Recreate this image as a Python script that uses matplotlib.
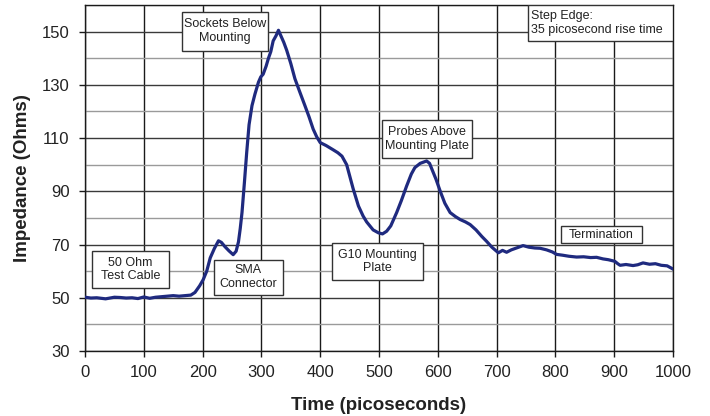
import matplotlib.pyplot as plt
from matplotlib.patches import Rectangle
from matplotlib.ticker import MultipleLocator

plt.rcParams["font.family"] = ["Liberation Sans", "DejaVu Sans"]

# TDR trace: time (ps) vs impedance (ohms)
time_ps = [0, 10, 20, 35, 50, 60, 70, 80, 90, 100, 110, 120, 130, 140, 150,
           160, 170, 180, 187, 195, 201, 207, 213, 220, 227, 232, 238, 245,
           252, 257, 261, 264, 267, 271, 275, 279, 284, 289, 295, 299, 303,
           308, 312, 316, 320, 325, 329, 333, 338, 343, 350, 357, 365, 374,
           381, 388, 394, 400, 410, 422, 430, 437, 445, 456, 465, 473, 479,
           490, 499, 506, 513, 520, 530, 538, 547, 555, 561, 570, 581, 586,
           590, 597, 604, 612, 621, 630, 638, 647, 655, 665, 675, 683, 692,
           703, 710, 717, 725, 735, 745, 755, 765, 774, 785, 795, 802, 812,
           823, 836, 848, 860, 870, 881, 890, 901, 906, 910, 920, 932, 940,
           949, 960, 970, 980, 990, 1000]
impedance = [50.2, 49.9, 50.0, 49.6, 50.2, 50.1, 49.9, 50.0, 49.7, 50.3,
             49.8, 50.2, 50.4, 50.6, 50.8, 50.6, 50.8, 51.0, 52.0, 54.5,
             56.8, 60.0, 65.0, 68.5, 71.4, 70.8, 69.2, 67.6, 66.2, 67.5,
             71.0, 76.0, 82.0, 93.0, 104.6, 115.0, 122.2, 126.5, 131.0,
             133.0, 134.0, 137.0, 140.0, 142.5, 146.5, 148.5, 150.5, 148.5,
             146.0, 143.0, 138.0, 132.3, 127.5, 122.2, 118.0, 113.4, 110.5,
             108.3, 107.2, 105.6, 104.5, 103.2, 100.0, 91.0, 84.5, 80.7,
             78.5, 75.5, 74.4, 74.0, 75.0, 77.0, 82.0, 86.5, 92.0, 96.5,
             98.9, 100.5, 101.4, 100.5, 98.3, 94.5, 90.1, 85.5, 82.0, 80.5,
             79.4, 78.5, 77.5, 75.5, 73.0, 71.2, 69.0, 66.9, 67.8, 67.1,
             68.0, 68.8, 69.6, 69.0, 68.7, 68.6, 68.0, 67.2, 66.3, 66.0,
             65.6, 65.3, 65.4, 65.1, 65.2, 64.6, 64.3, 63.7, 62.8, 62.2,
             62.5, 62.1, 62.4, 63.1, 62.6, 62.8, 62.2, 62.0, 60.8]

# callout labels and their boxes (t0, t1, z0, z1) in data units
note_text = ["50 Ohm\nTest Cable", "SMA\nConnector", "Sockets Below\nMounting",
             "G10 Mounting\nPlate", "Probes Above\nMounting Plate",
             "Termination", "Step Edge:\n35 picosecond rise time"]
note_box = [(12, 143, 53.8, 67.4), (219, 337, 51.1, 64.3),
            (165, 311, 142.8, 157.5), (420, 575, 56.8, 70.4),
            (505, 658, 102.5, 116.8), (809, 947, 70.4, 76.8),
            (753, 1000, 146.6, 160)]
note_align = ["center", "center", "center", "center", "center", "center",
              "left"]

fig = plt.figure(figsize=(7.1, 4.16), dpi=100)
ax = fig.add_axes([85 / 710, 65 / 416, 588 / 710, 346 / 416])

ax.set_xlim(0, 1000)
ax.set_ylim(30, 160)
ax.xaxis.set_major_locator(MultipleLocator(100))
ax.set_yticks(range(30, 151, 20))
ax.set_yticks(range(40, 161, 20), minor=True)

ax.grid(axis="x", which="major", color="#1a1a1a", linewidth=1.0)
ax.grid(axis="y", which="major", color="#3a3a3a", linewidth=1.0)
ax.grid(axis="y", which="minor", color="#9a9a9a", linewidth=1.0)
ax.set_axisbelow(True)

ax.tick_params(axis="both", which="major", labelsize=12, length=4,
               width=1, color="#1a1a1a", labelcolor="#222222")
ax.tick_params(axis="y", which="major", pad=7)
ax.tick_params(axis="x", which="major", pad=6)
ax.tick_params(axis="y", which="minor", length=0)
for sp in ax.spines.values():
    sp.set_color("#1a1a1a")
    sp.set_linewidth(1.0)

ax.plot(time_ps, impedance, color="#1f2a7f", linewidth=2.3,
        solid_joinstyle="round", zorder=3)

for text, (t0, t1, z0, z1), ha in zip(note_text, note_box, note_align):
    ax.add_patch(Rectangle((t0, z0), t1 - t0, z1 - z0, facecolor="white",
                           edgecolor="#333333", linewidth=1.0, zorder=4))
    tx = (t0 + t1) / 2 if ha == "center" else t0 + 5
    ax.text(tx, (z0 + z1) / 2, text, ha=ha, va="center", fontsize=9,
            color="#222222", zorder=5, linespacing=1.2)

ax.set_xlabel("Time (picoseconds)", fontsize=13.5, fontweight="bold",
              color="#222222", labelpad=12)
ax.set_ylabel("Impedance (Ohms)", fontsize=13.5, fontweight="bold",
              color="#222222", labelpad=8)

fig.savefig("out.png", dpi=100)
